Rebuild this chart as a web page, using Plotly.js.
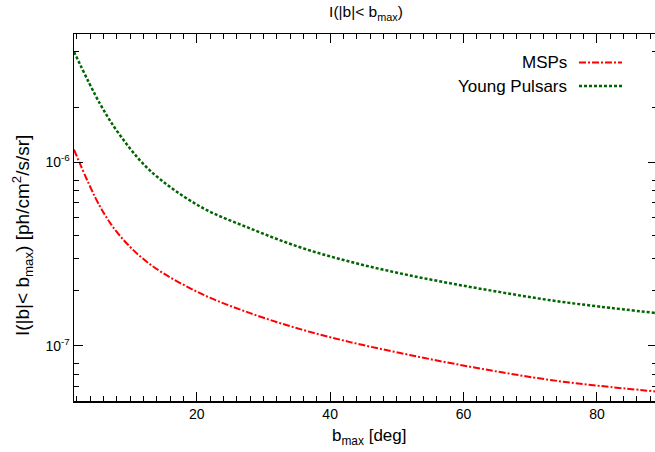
<!DOCTYPE html>
<html>
<head>
<meta charset="utf-8">
<script src="https://cdn.plot.ly/plotly-3.0.1.min.js"></script>
<style>
html,body{margin:0;padding:0;overflow:hidden;background:#fff;}
#chart{width:658px;height:452px;}
</style>
</head>
<body>
<div id="chart"></div>
<script>
// b_max values [deg]
var bmax = [1.6, 5.5, 8.5, 13, 20.5, 28, 35.5, 43, 50.5, 58, 65.5, 73, 80.5, 88.7];
// MSPs intensity [ph/cm^2/s/sr]
var msps = [1.172e-6, 5.74e-7, 3.97e-7, 2.78e-7, 1.934e-7, 1.506e-7, 1.232e-7, 1.047e-7, 9.13e-8, 8.05e-8, 7.19e-8, 6.51e-8, 6.04e-8, 5.64e-8];
// Young pulsars intensity [ph/cm^2/s/sr]
var young = [4.00e-6, 2.084e-6, 1.404e-6, 9.01e-7, 5.74e-7, 4.36e-7, 3.44e-7, 2.87e-7, 2.48e-7, 2.19e-7, 1.96e-7, 1.77e-7, 1.633e-7, 1.51e-7];

var xTickVals = [20, 40, 60, 80];
var yTickVals = [1e-7, 1e-6];
var yTickText = ['10<sup>-7</sup>', '10<sup>-6</sup>'];
var yMinorVals = [6e-8, 7e-8, 8e-8, 2e-7, 3e-7, 4e-7, 5e-7, 6e-7, 7e-7, 8e-7, 2e-6, 4e-6];
var seriesNames = ['MSPs', 'Young Pulsars'];

var W = 658, H = 452, L = 74, R = 1, T = 34, B = 51;
var pw = W - L - R, ph = H - T - B;
function px(x){ return (x - L) / pw; }
function py(y){ return (H - B - y) / ph; }

var FONT = 'Liberation Sans, Arial, Helvetica, sans-serif';

var traces = [
  {x: bmax, y: msps, mode: 'lines', name: seriesNames[0], line: {color: '#ff0000', width: 2, dash: '7px,2px,2px,2px', shape: 'spline', smoothing: 1}, showlegend: false},
  {x: bmax, y: young, mode: 'lines', name: seriesNames[1], line: {color: '#006400', width: 2.5, dash: '3px,2px', shape: 'spline', smoothing: 1}, showlegend: false}
];

var layout = {
  width: W, height: H,
  margin: {l: L, r: R, t: T, b: B, pad: 0},
  paper_bgcolor: '#fff', plot_bgcolor: '#fff',
  font: {family: FONT, color: '#000', size: 14},
  title: {text: 'I(|b|< b<sub>max</sub>)', font: {family: FONT, size: 15.5, color: '#000'}, x: px(366), xanchor: 'center', xref: 'paper', y: 1 - 12 / H, yref: 'container', yanchor: 'middle'},
  xaxis: {
    range: [1.6, 1.6 + pw / 6.67], showgrid: false, zeroline: false,
    showline: true, linecolor: '#000', linewidth: 1.5, mirror: 'ticks',
    ticks: 'inside', ticklen: 9, tickwidth: 1, tickcolor: '#000',
    tickmode: 'array', tickvals: xTickVals, ticktext: xTickVals.map(String),
    tickfont: {family: FONT, size: 14},
    minor: {ticks: 'inside', ticklen: 5, tickwidth: 1, tickcolor: '#000', dtick: 2, tick0: 0, showgrid: false}
  },
  yaxis: {
    type: 'log', range: [Math.log10(5e-8), Math.log10(5e-6)], showgrid: false, zeroline: false,
    showline: true, linecolor: '#000', linewidth: 1.5, mirror: 'ticks',
    ticks: 'inside', ticklen: 9, tickwidth: 1, tickcolor: '#000',
    tickmode: 'array', tickvals: yTickVals, ticktext: yTickText,
    tickfont: {family: FONT, size: 14},
    minor: {ticks: 'inside', ticklen: 5, tickwidth: 1, tickcolor: '#000', tickmode: 'array', tickvals: yMinorVals, showgrid: false}
  },
  annotations: [
    {text: 'b<sub>max</sub> [deg]', xref: 'paper', yref: 'paper', x: px(369), y: py(437), xanchor: 'center', yanchor: 'middle', showarrow: false, font: {family: FONT, size: 17}},
    {text: 'I(|b|< b<sub>max</sub>) [ph/cm<sup>2</sup>/s/sr]', xref: 'paper', yref: 'paper', x: px(22), y: py(236), xanchor: 'center', yanchor: 'middle', textangle: -90, showarrow: false, font: {family: FONT, size: 19}},
    {text: seriesNames[0], xref: 'paper', yref: 'paper', x: px(569), y: py(63), xanchor: 'right', yanchor: 'middle', showarrow: false, font: {family: FONT, size: 17}},
    {text: seriesNames[1], xref: 'paper', yref: 'paper', x: px(569), y: py(86), xanchor: 'right', yanchor: 'middle', showarrow: false, font: {family: FONT, size: 17}}
  ],
  shapes: [
    {type: 'line', xref: 'paper', yref: 'paper', x0: px(579), x1: px(622), y0: py(62.5), y1: py(62.5), line: {color: '#ff0000', width: 2, dash: '7px,2px,2px,2px'}},
    {type: 'line', xref: 'paper', yref: 'paper', x0: px(579), x1: px(622), y0: py(86), y1: py(86), line: {color: '#006400', width: 2.5, dash: '3px,2px'}}
  ]
};

Plotly.newPlot('chart', traces, layout, {staticPlot: true, displayModeBar: false});
</script>
</body>
</html>
